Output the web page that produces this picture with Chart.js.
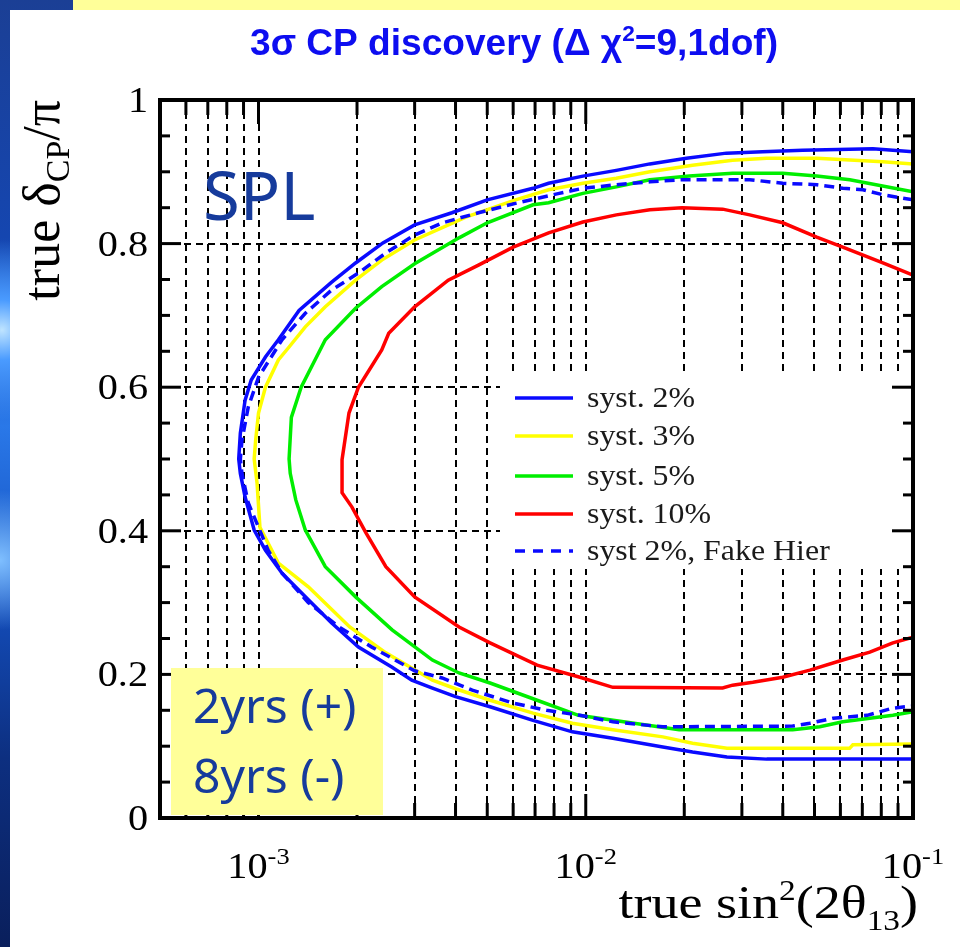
<!DOCTYPE html>
<html>
<head>
<meta charset="utf-8">
<title>3σ CP discovery</title>
<script src="https://cdn.jsdelivr.net/npm/chart.js@4.4.1/dist/chart.umd.min.js"></script>
<style>
  html, body { margin: 0; padding: 0; }
  body {
    width: 960px; height: 947px; position: relative; overflow: hidden;
    background:
      radial-gradient(circle at 2px 330px, #bfe4ff 0, #4a9bff 30px, rgba(40,110,240,0) 90px),
      radial-gradient(circle at 0 560px, #7fbfff 0, rgba(40,110,240,0) 70px),
      linear-gradient(to bottom, #1b3f95 0%, #1546b0 25%, #2a78e8 45%, #1450c0 62%, #0d2f80 80%, #0a1f5c 100%);
  }
  #topbar { position: absolute; left: 73px; top: 0; width: 887px; height: 10px; background: #ffff99; }
  #panel { position: absolute; left: 10px; top: 10px; width: 950px; height: 937px; background: #fff; }
  #wrap { position: absolute; left: 0; top: 0; width: 960px; height: 947px; }
</style>
</head>
<body>
<div id="topbar"></div>
<div id="panel"></div>
<div id="wrap"><canvas id="cpChart"></canvas></div>
<script>
const seriesLabels = ['syst. 2%', 'syst. 3%', 'syst. 5%', 'syst. 10%', 'syst 2%, Fake Hier'];

// contours as [sin^2(2theta13), deltaCP/pi], upper branch first, then lower branch
const syst2 = [
  [0.1, 0.928], [0.0754, 0.932], [0.046, 0.930], [0.0347, 0.928], [0.0269, 0.926], [0.0203, 0.919],
  [0.0157, 0.911], [0.0124, 0.902], [0.0098, 0.894], [0.0077, 0.884], [0.0069, 0.877], [0.0050, 0.861],
  [0.0039, 0.843], [0.0030, 0.826], [0.0024, 0.801], [0.00198, 0.773], [0.00167, 0.746], [0.00133, 0.707],
  [0.00115, 0.666], [0.00105, 0.642], [0.00095, 0.610], [0.00091, 0.582], [0.00088, 0.536], [0.00087, 0.500],
  [0.00088, 0.480], [0.00091, 0.447], [0.00097, 0.401], [0.00105, 0.373], [0.00118, 0.341], [0.00142, 0.304],
  [0.00167, 0.272], [0.00202, 0.238], [0.00256, 0.210], [0.00294, 0.192], [0.0034, 0.181], [0.0040, 0.169],
  [0.0051, 0.155], [0.0069, 0.136], [0.0091, 0.120], [0.0121, 0.111], [0.0172, 0.099], [0.0212, 0.092],
  [0.027, 0.085], [0.0357, 0.082], [0.1, 0.082]
];
const syst3 = [
  [0.1, 0.911], [0.0809, 0.914], [0.0508, 0.919], [0.0357, 0.919], [0.0281, 0.916], [0.0212, 0.909],
  [0.0157, 0.900], [0.0124, 0.891], [0.0098, 0.884], [0.0077, 0.875], [0.0061, 0.861], [0.0043, 0.837],
  [0.0030, 0.805], [0.00238, 0.777], [0.00198, 0.749], [0.0016, 0.712], [0.00139, 0.684], [0.00124, 0.656],
  [0.00115, 0.638], [0.00105, 0.600], [0.0010, 0.564], [0.00098, 0.526], [0.00097, 0.500], [0.00099, 0.466],
  [0.00101, 0.405], [0.00115, 0.355], [0.00142, 0.322], [0.0019, 0.266], [0.00245, 0.230], [0.0034, 0.192],
  [0.0040, 0.180], [0.0051, 0.164], [0.0069, 0.146], [0.0091, 0.132], [0.0121, 0.123], [0.0172, 0.113],
  [0.0212, 0.104], [0.027, 0.097], [0.064, 0.097], [0.0655, 0.102], [0.1, 0.103]
];
const syst5 = [
  [0.1, 0.872], [0.0641, 0.889], [0.0508, 0.894], [0.040, 0.898], [0.0281, 0.898], [0.0207, 0.894],
  [0.0157, 0.889], [0.0124, 0.879], [0.0098, 0.870], [0.0077, 0.857], [0.0069, 0.854], [0.0050, 0.829],
  [0.0041, 0.808], [0.0030, 0.772], [0.00238, 0.740], [0.00198, 0.710], [0.0016, 0.666], [0.00135, 0.600],
  [0.00126, 0.558], [0.00124, 0.500], [0.00125, 0.480], [0.0013, 0.443], [0.00139, 0.401], [0.0016, 0.350],
  [0.00198, 0.308], [0.00256, 0.262], [0.0034, 0.220], [0.0041, 0.202], [0.0051, 0.188], [0.0071, 0.164],
  [0.0095, 0.143], [0.0193, 0.123], [0.0429, 0.123], [0.0519, 0.127], [0.061, 0.134], [0.0738, 0.139],
  [0.0868, 0.143], [0.1, 0.148]
];
const syst10 = [
  [0.1, 0.756], [0.0809, 0.773], [0.061, 0.795], [0.0508, 0.809], [0.040, 0.829], [0.0317, 0.840],
  [0.0262, 0.848], [0.0197, 0.850], [0.0157, 0.847], [0.0124, 0.840], [0.0098, 0.830], [0.0077, 0.815],
  [0.0060, 0.795], [0.0047, 0.770], [0.0038, 0.749], [0.0030, 0.712], [0.0025, 0.675], [0.00238, 0.652],
  [0.00202, 0.600], [0.00189, 0.564], [0.0018, 0.499], [0.0018, 0.453], [0.00193, 0.433], [0.00213, 0.397],
  [0.00245, 0.350], [0.0030, 0.308], [0.0041, 0.266], [0.0051, 0.244], [0.0071, 0.213], [0.0096, 0.196],
  [0.0121, 0.182], [0.0262, 0.181], [0.0281, 0.185], [0.0324, 0.189], [0.040, 0.196], [0.0484, 0.206],
  [0.061, 0.220], [0.0738, 0.231], [0.0868, 0.244], [0.1, 0.252]
];
const syst2Fake = [
  [0.1, 0.861], [0.0809, 0.868], [0.0703, 0.875], [0.0611, 0.877], [0.0509, 0.882], [0.040, 0.884],
  [0.0317, 0.889], [0.0197, 0.889], [0.0157, 0.886], [0.0124, 0.882], [0.0098, 0.877], [0.0083, 0.870],
  [0.0061, 0.856], [0.0047, 0.843], [0.00365, 0.829], [0.0030, 0.812], [0.00245, 0.787], [0.00202, 0.759],
  [0.00167, 0.735], [0.00139, 0.703], [0.00118, 0.666], [0.0010, 0.614], [0.00093, 0.572], [0.00089, 0.526],
  [0.00088, 0.500], [0.00089, 0.480], [0.00093, 0.439], [0.00107, 0.373], [0.00118, 0.341], [0.00142, 0.300],
  [0.00176, 0.266], [0.00222, 0.238], [0.0030, 0.205], [0.00364, 0.195], [0.0045, 0.178], [0.0060, 0.160],
  [0.0076, 0.150], [0.0096, 0.143], [0.0121, 0.134], [0.0172, 0.127], [0.0429, 0.128], [0.0484, 0.132],
  [0.057, 0.139], [0.0724, 0.143], [0.0866, 0.153], [0.1, 0.156]
];

const xDecades = [1e-3, 1e-2, 1e-1];
const xDecadeExps = ['-3', '-2', '-1'];
const yTicks = [0, 0.2, 0.4, 0.6, 0.8, 1];
const yTickLabels = ['0', '0.2', '0.4', '0.6', '0.8', '1'];

const SX = 1.15; // plot lettering is a bit wide
const SERIF = '"Liberation Serif", "Times New Roman", serif';
const SANS_B = 'bold %spx "Liberation Sans", Arial, sans-serif';
const NOTE_BLUE = '#163b9c';

const toPoints = arr => arr.map(([x, y]) => ({ x, y }));
const sansBold = px => SANS_B.replace('%s', px);

const styles = [
  { color: '#0a0aff', dash: [] },
  { color: '#ffff00', dash: [] },
  { color: '#00ee00', dash: [] },
  { color: '#ff0000', dash: [] },
  { color: '#0a0aff', dash: [10, 6] }
];
const curves = [syst2, syst3, syst5, syst10, syst2Fake];

const datasets = curves.map((c, i) => ({
  label: seriesLabels[i],
  data: toPoints(c),
  showLine: true,
  pointRadius: 0,
  borderWidth: 3.5,
  borderColor: styles[i].color,
  borderDash: styles[i].dash,
  fill: false,
  tension: 0,
  order: curves.length - i
}));

// draw a row of text pieces (normal / super / subscript) with horizontal stretch
function textRuns(ctx, parts, x, y, align, sx) {
  let total = 0;
  parts.forEach(p => {
    ctx.font = p.font;
    p.w = ctx.measureText(p.t).width;
    total += p.w;
  });
  let start = x;
  if (align === 'right') start = x - total * sx;
  else if (align === 'center') start = x - total * sx / 2;
  ctx.save();
  ctx.translate(start, y);
  ctx.scale(sx, 1);
  ctx.textAlign = 'left';
  ctx.textBaseline = 'alphabetic';
  let cx = 0;
  parts.forEach(p => {
    ctx.font = p.font;
    ctx.fillText(p.t, cx, p.dy || 0);
    cx += p.w;
  });
  ctx.restore();
}

function seg(ctx, x0, y0, x1, y1) {
  ctx.beginPath();
  ctx.moveTo(x0, y0);
  ctx.lineTo(x1, y1);
  ctx.stroke();
}

function minorValues() {
  const out = [];
  for (let m = 5; m <= 9; m++) out.push(m * 1e-4);
  [1e-3, 1e-2].forEach(d => { for (let m = 2; m <= 9; m++) out.push(m * d); });
  return out;
}

const rootFrame = {
  id: 'rootFrame',
  beforeDatasetsDraw(chart) {
    const { ctx, chartArea: a, scales: { x, y } } = chart;
    ctx.save();
    ctx.strokeStyle = '#000';
    ctx.lineWidth = 2;
    ctx.setLineDash([7, 5]);
    minorValues().concat(xDecades).forEach(v => {
      const px = Math.round(x.getPixelForValue(v));
      if (px > a.left + 2 && px < a.right - 2) seg(ctx, px, a.top, px, a.bottom);
    });
    yTicks.forEach(v => {
      const py = Math.round(y.getPixelForValue(v));
      if (py > a.top + 2 && py < a.bottom - 2) seg(ctx, a.left, py, a.right, py);
    });
    ctx.setLineDash([]);
    // legend panel
    ctx.fillStyle = '#fff';
    ctx.fillRect(500, 376, 406, 193);
    ctx.restore();
  },
  afterDatasetsDraw(chart) {
    const { ctx, chartArea: a, scales: { x, y } } = chart;
    ctx.save();
    ctx.strokeStyle = '#000';
    ctx.fillStyle = '#000';

    // tick marks on all four sides
    ctx.lineWidth = 3;
    for (let i = 0; i <= 20; i++) {
      const py = y.getPixelForValue(i * 0.05);
      const len = i % 4 === 0 ? 21 : 10;
      seg(ctx, a.left, py, a.left + len, py);
      seg(ctx, a.right, py, a.right - len, py);
    }
    minorValues().forEach(v => {
      const px = x.getPixelForValue(v);
      seg(ctx, px, a.bottom, px, a.bottom - 15);
      seg(ctx, px, a.top, px, a.top + 15);
    });
    xDecades.forEach(v => {
      const px = x.getPixelForValue(v);
      seg(ctx, px, a.bottom, px, a.bottom - 24);
      seg(ctx, px, a.top, px, a.top + 24);
    });

    ctx.lineWidth = 4;
    ctx.strokeRect(a.left, a.top, a.right - a.left, a.bottom - a.top);

    // tick labels
    yTicks.forEach((v, i) => {
      const py = y.getPixelForValue(v);
      textRuns(ctx, [{ t: yTickLabels[i], font: '35px ' + SERIF }], 148, py + 12, 'right', SX);
    });
    xDecades.forEach((v, i) => {
      const px = x.getPixelForValue(v);
      textRuns(ctx, [
        { t: '10', font: '35px ' + SERIF },
        { t: xDecadeExps[i], font: '23px ' + SERIF, dy: -14 }
      ], px, 878, 'center', SX);
    });

    // axis titles
    textRuns(ctx, [
      { t: 'true sin', font: '47px ' + SERIF },
      { t: '2', font: '29px ' + SERIF, dy: -18 },
      { t: '(2\u03b8', font: '47px ' + SERIF },
      { t: '13', font: '29px ' + SERIF, dy: 12 },
      { t: ')', font: '47px ' + SERIF }
    ], 918, 918, 'right', SX);

    ctx.save();
    ctx.translate(59, 100);
    ctx.rotate(-Math.PI / 2);
    textRuns(ctx, [
      { t: 'true \u03b4', font: '52px ' + SERIF },
      { t: 'CP', font: '34px ' + SERIF, dy: 10 },
      { t: '/\u03c0', font: '52px ' + SERIF }
    ], 0, 0, 'right', 1);
    ctx.restore();

    // legend
    const rows = [398, 436, 476, 514, 551];
    chart.data.datasets.forEach((ds, i) => {
      ctx.save();
      ctx.strokeStyle = ds.borderColor;
      ctx.lineWidth = 3.5;
      ctx.setLineDash(i === 4 ? [10, 8] : []);
      seg(ctx, 515, rows[i], 573, rows[i]);
      ctx.restore();
      ctx.fillStyle = '#1a1a1a';
      textRuns(ctx, [{ t: ds.label, font: '29px ' + SERIF }], 587, rows[i] + 9, 'left', 1.1);
    });

    ctx.restore();
  },
  afterDraw(chart) {
    const { ctx } = chart;
    ctx.save();
    // title
    ctx.fillStyle = '#0d0df0';
    textRuns(ctx, [
      { t: '3\u03c3 CP discovery (\u0394 \u03c7', font: sansBold(36) },
      { t: '2', font: sansBold(22), dy: -14 },
      { t: '=9,1dof)', font: sansBold(36) }
    ], 514, 55, 'center', 1.03);

    // experiment tag and running time box
    ctx.fillStyle = NOTE_BLUE;
    ctx.font = '67px "Noto Sans", sans-serif';
    ctx.textAlign = 'left';
    ctx.textBaseline = 'alphabetic';
    ctx.fillText('SPL', 203, 220);

    ctx.fillStyle = '#ffff99';
    ctx.fillRect(171, 668, 212, 147);
    ctx.fillStyle = NOTE_BLUE;
    ctx.font = '48px "Noto Sans", sans-serif';
    ctx.fillText('2yrs (+)', 193, 723);
    ctx.fillText('8yrs (-)', 193, 793);
    ctx.restore();
  }
};

const config = {
  type: 'scatter',
  data: { datasets: datasets },
  options: {
    responsive: true,
    maintainAspectRatio: false,
    animation: false,
    layout: { padding: { left: 160, top: 100, right: 47, bottom: 129 } },
    scales: {
      x: { type: 'logarithmic', min: 5e-4, max: 0.1, display: false },
      y: { type: 'linear', min: 0, max: 1, display: false }
    },
    plugins: {
      legend: { display: false },
      tooltip: { enabled: false }
    }
  },
  plugins: [rootFrame]
};

const cpChart = new Chart(document.getElementById('cpChart'), config);
</script>
</body>
</html>
